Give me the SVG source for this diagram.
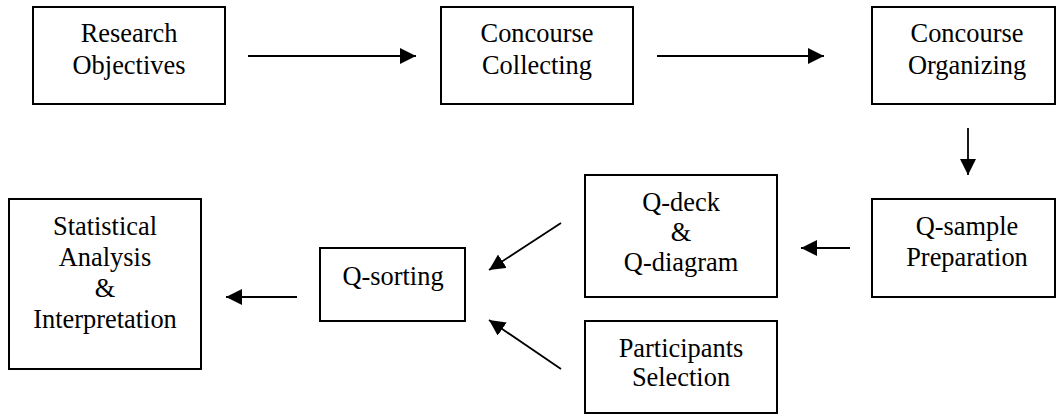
<svg xmlns="http://www.w3.org/2000/svg" width="1057" height="415" viewBox="0 0 1057 415">
<style>
.box{fill:#fff;stroke:#000;stroke-width:2}
.t{font-family:"Liberation Serif","Times New Roman",serif;font-size:26.4px;fill:#000;text-anchor:middle}
.c{stroke:#000;stroke-width:1.8;fill:none;marker-end:url(#ah)}
</style>
<defs>
<marker id="ah" markerUnits="userSpaceOnUse" markerWidth="17" markerHeight="16" refX="16" refY="8" orient="auto">
<path d="M0,0 L16,8 L0,16 Z" fill="#000"/>
</marker>
</defs>
<rect width="1057" height="415" fill="#fff"/>
<g id="research-objectives"><rect class="box" x="33" y="7" width="192" height="97"/><text class="t" x="129" y="42">Research</text><text class="t" x="129" y="74">Objectives</text></g>
<g id="concourse-collecting"><rect class="box" x="441" y="7" width="192" height="97"/><text class="t" x="537" y="42">Concourse</text><text class="t" x="537" y="74">Collecting</text></g>
<g id="concourse-organizing"><rect class="box" x="872" y="7" width="183" height="97"/><text class="t" x="967" y="42">Concourse</text><text class="t" x="967" y="74">Organizing</text></g>
<g id="q-sample"><rect class="box" x="872" y="199" width="183" height="98"/><text class="t" x="967" y="235">Q-sample</text><text class="t" x="967" y="266">Preparation</text></g>
<g id="q-deck"><rect class="box" x="585" y="175" width="192" height="122"/><text class="t" x="681" y="211">Q-deck</text><text class="t" x="681" y="241">&amp;</text><text class="t" x="681" y="271">Q-diagram</text></g>
<g id="participants"><rect class="box" x="585" y="321" width="192" height="92"/><text class="t" x="681" y="357">Participants</text><text class="t" x="681" y="386">Selection</text></g>
<g id="q-sorting"><rect class="box" x="320" y="248" width="145" height="73"/><text class="t" x="393" y="285">Q-sorting</text></g>
<g id="statistical"><rect class="box" x="9" y="199" width="192" height="170"/><text class="t" x="105" y="235">Statistical</text><text class="t" x="105" y="266">Analysis</text><text class="t" x="105" y="297">&amp;</text><text class="t" x="105" y="328">Interpretation</text></g>
<g id="connectors">
<line class="c" x1="248" y1="56" x2="416" y2="56"/>
<line class="c" x1="657" y1="56" x2="824" y2="56"/>
<line class="c" x1="968" y1="128" x2="968" y2="175"/>
<line class="c" x1="850" y1="248" x2="801" y2="248"/>
<line class="c" x1="561" y1="223" x2="489" y2="270"/>
<line class="c" x1="561" y1="369" x2="489" y2="320"/>
<line class="c" x1="297" y1="297" x2="226" y2="297"/>
</g>
</svg>
